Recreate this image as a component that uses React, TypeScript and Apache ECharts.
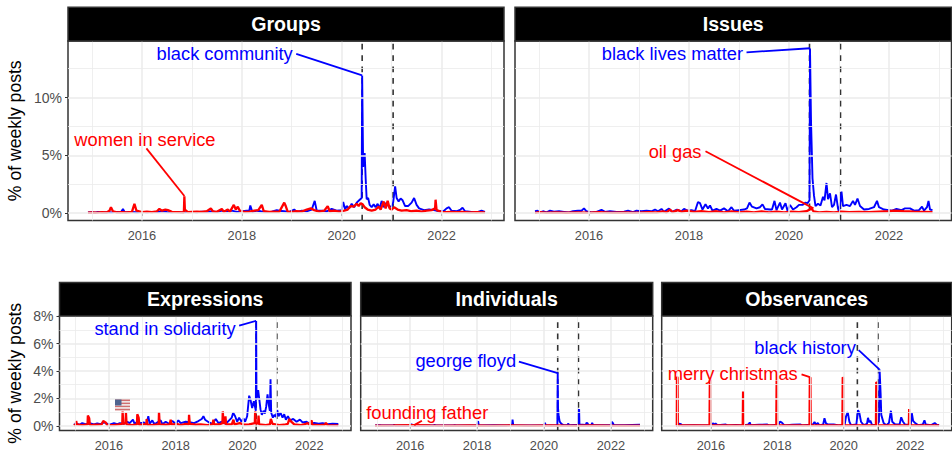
import React, { useEffect, useRef } from "react";
import * as echarts from "echarts";

const FONT = "Liberation Sans";
const BLUE = "#0000ff";
const RED = "#ff0000";
const X_RANGE = [2014.52, 2023.25];
const majorYears = [2016, 2018, 2020, 2022];
const minorYears = [2015, 2017, 2019, 2021, 2023];
const eventDates = [2020.41, 2021.03];

const topMajorY = [0, 5, 10];
const topMinorY = [2.5, 7.5, 12.5];
const botMajorY = [0, 2, 4, 6, 8];
const botMinorY = [1, 3, 5, 7];

const groupsBlue = [[2014.92,.05],[2015,.08],[2015.06,.03],[2015.12,.1],[2015.2,.05],[2015.3,.08],[2015.4,.05],[2015.5,.1],[2015.58,.06],[2015.62,.35],[2015.66,.05],[2015.75,.1],[2015.9,.06],[2016,.1],[2016.1,.05],[2016.2,.1],[2016.3,.08],[2016.4,.15],[2016.5,.1],[2016.6,.07],[2016.7,.1],[2016.8,.05],[2016.9,.08],[2017,.1],[2017.1,.06],[2017.2,.12],[2017.3,.1],[2017.4,.15],[2017.5,.08],[2017.6,.2],[2017.7,.15],[2017.8,.2],[2017.9,.1],[2018,.15],[2018.1,.2],[2018.15,.2],[2018.17,.65],[2018.21,.1],[2018.3,.2],[2018.38,.15],[2018.5,.1],[2018.6,.12],[2018.7,.25],[2018.75,.2],[2018.85,.15],[2018.95,.1],[2019.05,.3],[2019.1,.1],[2019.2,.2],[2019.3,.15],[2019.4,.3],[2019.46,1.05],[2019.5,.2],[2019.6,.2],[2019.7,.15],[2019.8,.35],[2019.9,.2],[2020,.25],[2020.03,.95],[2020.07,.3],[2020.1,.6],[2020.15,.4],[2020.2,.8],[2020.25,.5],[2020.3,.9],[2020.35,1.1],[2020.4,1.3],[2020.41,11.9],[2020.43,4],[2020.44,4.5],[2020.46,5.2],[2020.48,3],[2020.5,1.2],[2020.53,1.3],[2020.56,.7],[2020.6,.5],[2020.64,.75],[2020.68,.5],[2020.72,.8],[2020.76,.4],[2020.8,1.05],[2020.84,.5],[2020.9,.9],[2020.95,.5],[2021,.6],[2021.03,.9],[2021.07,2.3],[2021.1,1.3],[2021.14,1],[2021.18,1.25],[2021.22,1.1],[2021.27,.6],[2021.33,.6],[2021.4,.9],[2021.45,1.3],[2021.5,.7],[2021.55,.4],[2021.65,.25],[2021.75,.3],[2021.85,.25],[2021.95,.15],[2022.05,.2],[2022.1,.4],[2022.15,.5],[2022.2,.2],[2022.3,.15],[2022.38,.3],[2022.42,.45],[2022.47,.15],[2022.6,.1],[2022.7,.05],[2022.8,.2],[2022.87,.1]];
const groupsRed = [[2014.92,.03],[2015,.05],[2015.1,.04],[2015.2,.08],[2015.3,.06],[2015.35,.2],[2015.38,.5],[2015.42,.15],[2015.5,.05],[2015.6,.08],[2015.7,.05],[2015.8,.1],[2015.85,.8],[2015.89,.2],[2016,.08],[2016.1,.12],[2016.2,.08],[2016.3,.15],[2016.35,.35],[2016.4,.2],[2016.47,.3],[2016.52,.25],[2016.6,.1],[2016.7,.08],[2016.84,.05],[2016.85,1.45],[2016.86,.3],[2016.92,.08],[2017,.1],[2017.1,.12],[2017.2,.1],[2017.3,.15],[2017.38,.4],[2017.42,.15],[2017.5,.1],[2017.6,.35],[2017.64,.1],[2017.72,.3],[2017.76,.1],[2017.84,.7],[2017.88,.3],[2017.92,.55],[2017.96,.2],[2018.05,.1],[2018.15,.12],[2018.25,.2],[2018.33,.25],[2018.4,.7],[2018.44,.15],[2018.55,.1],[2018.65,.12],[2018.75,.1],[2018.85,.9],[2018.88,.6],[2018.92,.1],[2019,.1],[2019.1,.15],[2019.2,.12],[2019.3,.3],[2019.38,.4],[2019.45,.25],[2019.55,.12],[2019.65,.2],[2019.72,.6],[2019.76,.15],[2019.85,.2],[2019.95,.12],[2020.05,.2],[2020.12,.3],[2020.18,.6],[2020.24,.55],[2020.3,.8],[2020.34,.6],[2020.38,.85],[2020.42,.75],[2020.46,.5],[2020.52,.3],[2020.6,.2],[2020.68,.3],[2020.74,.55],[2020.78,.3],[2020.84,1],[2020.88,.4],[2020.92,1.05],[2020.96,.4],[2021,.3],[2021.05,.5],[2021.12,.3],[2021.2,.2],[2021.3,.25],[2021.4,.15],[2021.5,.2],[2021.6,.12],[2021.7,.2],[2021.8,.25],[2021.87,.4],[2021.88,1.15],[2021.9,.25],[2022,.1],[2022.1,.08],[2022.2,.1],[2022.3,.08],[2022.4,.1],[2022.55,.05],[2022.7,.08],[2022.87,.06]];

const issuesBlue = [[2014.92,.15],[2014.97,.2],[2015.02,.05],[2015.08,.15],[2015.15,.05],[2015.22,.2],[2015.3,.12],[2015.4,.15],[2015.5,.1],[2015.6,.05],[2015.68,.15],[2015.78,.2],[2015.85,.2],[2015.9,.4],[2015.95,.15],[2016.05,.05],[2016.15,.1],[2016.25,.28],[2016.32,.1],[2016.42,.15],[2016.55,.1],[2016.7,.12],[2016.78,.2],[2016.88,.08],[2016.95,.2],[2017.05,.15],[2017.15,.2],[2017.25,.15],[2017.32,.3],[2017.38,.15],[2017.45,.35],[2017.5,.1],[2017.6,.38],[2017.66,.1],[2017.76,.3],[2017.85,.15],[2017.9,.35],[2017.97,.2],[2018.05,.25],[2018.12,.15],[2018.18,.95],[2018.22,.85],[2018.27,.3],[2018.33,.75],[2018.38,.4],[2018.42,.65],[2018.47,.2],[2018.55,.35],[2018.62,.2],[2018.7,.4],[2018.78,.15],[2018.85,.5],[2018.9,.2],[2019,.25],[2019.1,.3],[2019.16,.4],[2019.21,.9],[2019.26,.55],[2019.35,.4],[2019.42,.5],[2019.47,.75],[2019.52,.35],[2019.62,.3],[2019.66,.3],[2019.71,1.05],[2019.75,.25],[2019.82,.9],[2019.86,.3],[2019.93,.85],[2019.97,.2],[2020.02,.7],[2020.08,.3],[2020.15,.5],[2020.2,.7],[2020.27,.7],[2020.33,.9],[2020.37,.85],[2020.41,1.1],[2020.42,14.25],[2020.44,8],[2020.47,3],[2020.5,1.5],[2020.53,.6],[2020.58,.8],[2020.63,.65],[2020.68,1.4],[2020.71,1.1],[2020.75,2.6],[2020.78,1.2],[2020.82,1.7],[2020.86,.5],[2020.9,.7],[2020.94,1.6],[2020.98,.4],[2021,.1],[2021.03,1.0],[2021.05,1.85],[2021.08,.6],[2021.15,.7],[2021.22,.6],[2021.28,1.05],[2021.32,.7],[2021.37,1.25],[2021.42,.6],[2021.5,.3],[2021.6,.35],[2021.7,.5],[2021.76,1.05],[2021.8,.5],[2021.9,.3],[2022,.25],[2022.06,.2],[2022.15,.35],[2022.25,.25],[2022.32,.4],[2022.42,.4],[2022.5,.2],[2022.6,.25],[2022.66,.55],[2022.7,.2],[2022.76,.5],[2022.79,1.05],[2022.82,.3],[2022.87,.25]];
const issuesRed = [[2014.92,.02],[2015,.08],[2015.15,.03],[2015.35,.05],[2015.55,.02],[2015.75,.06],[2016,.03],[2016.2,.07],[2016.45,.03],[2016.7,.06],[2016.95,.03],[2017.2,.08],[2017.35,.05],[2017.48,.15],[2017.55,.05],[2017.62,.3],[2017.67,.08],[2017.78,.25],[2017.85,.1],[2017.95,.2],[2018.1,.1],[2018.25,.15],[2018.4,.08],[2018.55,.15],[2018.7,.05],[2018.85,.15],[2019,.05],[2019.15,.12],[2019.3,.06],[2019.45,.15],[2019.6,.05],[2019.75,.12],[2019.9,.06],[2020.05,.12],[2020.2,.08],[2020.35,.15],[2020.45,.38],[2020.49,.15],[2020.6,.06],[2020.75,.1],[2020.9,.05],[2021.05,.12],[2021.2,.07],[2021.4,.1],[2021.6,.08],[2021.8,.12],[2022,.15],[2022.1,.2],[2022.3,.15],[2022.5,.12],[2022.7,.1],[2022.87,.08]];

const exprBlue = [[2014.95,.08],[2015.05,.15],[2015.12,.08],[2015.2,.2],[2015.3,.12],[2015.45,.18],[2015.55,.1],[2015.65,.18],[2015.75,.12],[2015.85,.25],[2015.95,.15],[2016.05,.1],[2016.15,.2],[2016.25,.12],[2016.33,.2],[2016.45,.15],[2016.55,.3],[2016.62,.2],[2016.72,.45],[2016.77,.15],[2016.85,.3],[2016.95,.2],[2017.05,.25],[2017.12,.1],[2017.18,.7],[2017.22,.15],[2017.3,.4],[2017.35,.15],[2017.42,.2],[2017.55,.4],[2017.6,.12],[2017.7,.3],[2017.8,.15],[2017.9,.35],[2018,.15],[2018.08,.4],[2018.15,.2],[2018.3,.3],[2018.45,.25],[2018.55,.2],[2018.68,.35],[2018.78,.5],[2018.83,.7],[2018.88,.45],[2019,.25],[2019.1,.15],[2019.2,.5],[2019.28,.2],[2019.38,.3],[2019.5,.15],[2019.6,.4],[2019.68,.6],[2019.72,.95],[2019.78,.7],[2019.84,.3],[2019.9,.6],[2019.97,.3],[2020.03,.55],[2020.08,.3],[2020.14,.7],[2020.2,2.2],[2020.24,1.9],[2020.29,1.3],[2020.34,1.8],[2020.4,1.1],[2020.41,7.65],[2020.42,1.9],[2020.47,2.6],[2020.5,2],[2020.54,1.2],[2020.58,.8],[2020.63,1.1],[2020.67,.9],[2020.71,1.4],[2020.75,2.3],[2020.79,1.5],[2020.82,1.1],[2020.84,3.4],[2020.86,.95],[2020.91,.6],[2020.96,.8],[2021,.65],[2021.04,1.15],[2021.08,.7],[2021.14,.95],[2021.2,.6],[2021.25,.85],[2021.3,.45],[2021.36,.7],[2021.43,.4],[2021.52,.5],[2021.62,.3],[2021.72,.45],[2021.8,.25],[2021.92,.3],[2022.02,.15],[2022.15,.22],[2022.28,.15],[2022.4,.2],[2022.55,.12],[2022.7,.15],[2022.87,.13]];
const exprRed = [[2014.95,.02],[2015.01,.1],[2015.02,.35],[2015.04,.1],[2015.2,.05],[2015.36,.1],[2015.37,.75],[2015.41,.55],[2015.43,.05],[2015.6,.08],[2015.78,.1],[2015.83,.35],[2015.9,.25],[2015.95,.05],[2016.15,.05],[2016.3,.1],[2016.4,.15],[2016.41,1.05],[2016.43,.15],[2016.5,.2],[2016.51,.95],[2016.53,.1],[2016.7,.05],[2016.84,.1],[2016.85,.85],[2016.89,.6],[2016.91,.05],[2017.05,.1],[2017.12,.1],[2017.13,.5],[2017.15,.08],[2017.3,.05],[2017.45,.1],[2017.49,.1],[2017.5,1],[2017.52,.1],[2017.7,.08],[2017.82,.1],[2017.85,.45],[2017.87,.1],[2018.05,.12],[2018.15,.05],[2018.3,.15],[2018.39,.1],[2018.4,.8],[2018.42,.15],[2018.6,.08],[2018.75,.1],[2018.95,.05],[2019.1,.1],[2019.13,.45],[2019.15,.1],[2019.3,.1],[2019.4,.2],[2019.41,1.05],[2019.43,.2],[2019.48,.2],[2019.49,.7],[2019.51,.1],[2019.68,.1],[2019.73,.45],[2019.76,.1],[2019.92,.2],[2020.05,.08],[2020.2,.1],[2020.37,.2],[2020.38,1.05],[2020.4,.15],[2020.47,.2],[2020.48,.75],[2020.5,.1],[2020.7,.05],[2020.82,.1],[2020.85,.5],[2020.9,.15],[2021.1,.05],[2021.25,.08],[2021.36,.15],[2021.4,.5],[2021.46,.3],[2021.55,.1],[2021.75,.05],[2021.9,.15],[2021.95,.2],[2022,.08],[2022.07,.4],[2022.09,.08],[2022.3,.05],[2022.46,.08],[2022.5,.2],[2022.55,.05],[2022.87,.04]];

const indivBlue = [[2014.95,.02],[2015.1,.05],[2015.13,.02],[2015.5,.03],[2015.52,.08],[2015.55,.02],[2016,.02],[2016.04,.12],[2016.08,.02],[2016.7,.03],[2016.73,.07],[2016.76,.02],[2017.3,.02],[2017.33,.06],[2017.36,.02],[2018,.03],[2018.03,.35],[2018.05,.03],[2018.5,.04],[2018.9,.03],[2019.05,.05],[2019.06,.45],[2019.08,.05],[2019.5,.03],[2020,.05],[2020.03,.22],[2020.05,.05],[2020.25,.03],[2020.4,.05],[2020.41,3.88],[2020.42,1.3],[2020.44,.7],[2020.47,.3],[2020.52,.15],[2020.58,.05],[2020.7,.06],[2020.72,.16],[2020.76,.05],[2021.02,.08],[2021.03,1.15],[2021.05,1.2],[2021.06,.1],[2021.25,.06],[2021.27,.22],[2021.3,.2],[2021.33,.05],[2021.42,.07],[2021.44,.22],[2021.47,.05],[2021.8,.04],[2022.01,.05],[2022.03,.3],[2022.06,.2],[2022.09,.05],[2022.4,.04],[2022.87,.08]];
const indivRed = [[2014.95,.02],[2015.5,.03],[2016.1,.05],[2016.6,.03],[2017.2,.02],[2017.8,.03],[2018.4,.02],[2019,.03],[2019.6,.02],[2020.2,.03],[2020.8,.02],[2021.4,.03],[2022,.02],[2022.87,.02]];

const obsBlue = [[2014.95,.02],[2015.02,.05],[2015.05,.15],[2015.1,.12],[2015.14,.02],[2015.5,.05],[2015.75,.03],[2016.03,.05],[2016.06,.2],[2016.1,.08],[2016.14,.18],[2016.2,.04],[2016.45,.1],[2016.5,.03],[2016.75,.07],[2017,.03],[2017.13,.1],[2017.17,.25],[2017.2,.04],[2017.45,.08],[2017.7,.1],[2017.75,.03],[2018.04,.08],[2018.08,.3],[2018.13,.25],[2018.18,.12],[2018.22,.03],[2018.45,.08],[2018.7,.1],[2018.75,.03],[2019.07,.1],[2019.12,.27],[2019.17,.1],[2019.22,.2],[2019.27,.03],[2019.38,.1],[2019.42,.55],[2019.46,.2],[2019.52,.1],[2019.7,.1],[2019.85,.03],[2020.03,.1],[2020.07,.7],[2020.12,1],[2020.17,.3],[2020.22,.05],[2020.38,.1],[2020.43,1.15],[2020.47,.95],[2020.52,.3],[2020.6,.05],[2020.7,.15],[2020.73,.58],[2020.77,.25],[2020.8,.38],[2020.85,.08],[2021,.05],[2021.06,.3],[2021.08,4.1],[2021.11,2.4],[2021.13,.8],[2021.2,.2],[2021.28,.05],[2021.36,.2],[2021.42,1.1],[2021.46,.3],[2021.55,.1],[2021.68,.1],[2021.73,.62],[2021.78,.32],[2021.85,.08],[2022.02,.1],[2022.05,.92],[2022.09,.35],[2022.16,.18],[2022.25,.04],[2022.38,.1],[2022.43,.4],[2022.47,.1],[2022.62,.04],[2022.74,.2],[2022.8,.08],[2022.87,.04]];
const obsRed = [[2014.95,.03],[2014.975,.03],[2014.98,3.58],[2014.995,3.5],[2015.005,.03],[2015.6,.03],[2015.96,.03],[2015.97,3.34],[2015.985,3.3],[2015.995,.03],[2016.5,.03],[2016.96,.03],[2016.97,2.5],[2016.99,.03],[2017.5,.03],[2017.97,.03],[2017.98,3.3],[2017.995,3.28],[2018.005,.03],[2018.5,.03],[2018.97,.03],[2018.98,3.56],[2018.995,3.5],[2019.005,.03],[2019.5,.03],[2019.96,.03],[2019.97,3.55],[2019.985,3.5],[2019.995,.03],[2020.5,.03],[2020.97,.03],[2020.98,3.2],[2020.995,3.15],[2021.005,.03],[2021.5,.03],[2021.96,.03],[2021.97,1.22],[2021.985,1.2],[2021.995,.03],[2022.5,.03],[2022.87,.03]];

const panelTitles = ["Groups", "Issues", "Expressions", "Individuals", "Observances"];
const panelBoxes = [
  { left: 68, top: 41, width: 436, height: 179.5, strip: 7.3 },
  { left: 515, top: 41, width: 436.5, height: 179.5, strip: 7.3 },
  { left: 59.5, top: 316, width: 291.5, height: 114.5, strip: 282.5 },
  { left: 360.7, top: 316, width: 292, height: 114.5, strip: 282.5 },
  { left: 661.7, top: 316, width: 290, height: 114.5, strip: 282.5 },
];
const blueSeries = [groupsBlue, issuesBlue, exprBlue, indivBlue, obsBlue];
const redSeries = [groupsRed, issuesRed, exprRed, indivRed, obsRed];
const Y_RANGES = [[-0.65, 14.9], [-0.65, 14.9], [-0.34, 8.01], [-0.34, 8.01], [-0.34, 8.01]];
const showYLabels = [true, false, true, false, false];
const yTitleGap = [44, 0, 35.5, 0, 0];

// panel, text, colour, text anchor point, side of the anchor, leader start, leader tip
const notes: [number, string, string, number[], string, number[], number[]][] = [
  [0, "black community", BLUE, [2019.03, 13.78], "left", [2019.09, 13.78], [2020.41, 11.93]],
  [0, "women in service", RED, [2016.06, 6.33], "inside", [2016.09, 5.6], [2016.85, 1.47]],
  [1, "black lives matter", BLUE, [2019.09, 13.78], "left", [2019.15, 13.92], [2020.42, 14.27]],
  [1, "oil gas", RED, [2018.26, 5.37], "left", [2018.33, 5.35], [2020.49, 0.4]],
  [2, "stand in solidarity", BLUE, [2019.81, 7.07], "left", [2019.9, 7.31], [2020.41, 7.66]],
  [3, "george floyd", BLUE, [2019.18, 4.8], "left", [2019.25, 4.68], [2020.41, 3.85]],
  [3, "founding father", RED, [2016.51, 0.98], "inside", [2016.35, 0.37], [2016.12, 0.05]],
  [4, "black history", BLUE, [2020.38, 5.7], "left", [2020.45, 5.52], [2021.08, 4.1]],
  [4, "merry christmas", RED, [2018.63, 3.8], "left", [2018.73, 3.76], [2018.98, 3.56]],
];

const flagStripes = ["#cf6f70", "#ece4e4", "#cf6f70", "#ece4e4", "#cf6f70", "#ece4e4", "#cf6f70"];

function buildOption() {
  const grid: any[] = [];
  const xAxis: any[] = [];
  const yAxis: any[] = [];
  const series: any[] = [];
  const graphic: any[] = [];

  panelBoxes.forEach((b, i) => {
    const top = i < 2;
    const majorY = top ? topMajorY : botMajorY;
    const minorY = top ? topMinorY : botMinorY;
    grid.push({ left: b.left, top: b.top, width: b.width, height: b.height, show: true, backgroundColor: "#fff", borderColor: "#333", borderWidth: 1.5, containLabel: false, outerBoundsMode: "none" });
    xAxis.push({
      type: "value", gridIndex: i, min: X_RANGE[0], max: X_RANGE[1],
      splitLine: { show: false }, axisLine: { show: false },
      axisTick: { show: true, customValues: majorYears, length: 3, lineStyle: { color: "#333", width: 1 } },
      axisLabel: { show: true, customValues: majorYears, formatter: (v: number) => String(Math.round(v)), fontFamily: FONT, fontSize: 12.8, color: "#4d4d4d", margin: 8 },
    });
    yAxis.push({
      type: "value", gridIndex: i, min: Y_RANGES[i][0], max: Y_RANGES[i][1],
      splitLine: { show: false }, axisLine: { show: false },
      name: showYLabels[i] ? "% of weekly posts" : "",
      nameLocation: "middle", nameGap: yTitleGap[i], nameRotate: 90,
      nameTextStyle: { fontFamily: FONT, fontSize: 17.6, color: "#000" },
      axisTick: showYLabels[i] ? { show: true, customValues: majorY, length: 3, lineStyle: { color: "#333", width: 1 } } : { show: false },
      axisLabel: showYLabels[i]
        ? { show: true, customValues: majorY, formatter: (v: number) => `${Math.round(v)}%`, fontFamily: FONT, fontSize: 14, color: "#4d4d4d", margin: 6 }
        : { show: false },
    });

    const gridLine = (o: object, width: number) => ({ ...o, lineStyle: { color: "#ebebeb", width, type: "solid" } });
    series.push({
      type: "line", xAxisIndex: i, yAxisIndex: i, data: [], silent: true, z: 1,
      markLine: {
        silent: true, symbol: "none", label: { show: false }, animation: false,
        data: [
          ...minorYears.map((v) => gridLine({ xAxis: v }, 0.8)),
          ...minorY.map((v) => gridLine({ yAxis: v }, 0.8)),
          ...majorYears.map((v) => gridLine({ xAxis: v }, 1.5)),
          ...majorY.map((v) => gridLine({ yAxis: v }, 1.5)),
        ],
      },
    });
    eventDates.forEach((d) => {
      series.push({
        type: "line", xAxisIndex: i, yAxisIndex: i, silent: true, z: 2, symbol: "none",
        data: [[d, Y_RANGES[i][0]], [d, Y_RANGES[i][1]]],
        lineStyle: { color: "#333", width: 1.6, type: [5.7, 5.7] },
      });
    });
    series.push({ type: "line", xAxisIndex: i, yAxisIndex: i, silent: true, z: 3, symbol: "none", data: blueSeries[i], lineStyle: { color: BLUE, width: 1.9 } });
    series.push({ type: "line", xAxisIndex: i, yAxisIndex: i, silent: true, z: 4, symbol: "none", data: redSeries[i], lineStyle: { color: RED, width: 2.3 } });

    graphic.push({ type: "rect", z: 50, shape: { x: b.left, y: b.strip, width: b.width, height: b.top - b.strip }, style: { fill: "#000", stroke: "#333", lineWidth: 1.5 } });
    graphic.push({ type: "text", z: 51, x: b.left + b.width / 2, y: (b.strip + b.top) / 2, style: { text: panelTitles[i], fill: "#fff", font: `bold 19.6px "${FONT}"`, textAlign: "center", textVerticalAlign: "middle" } });
  });

  notes.forEach(([p, text, color, at, side, from, tip]) => {
    series.push({ type: "line", xAxisIndex: p, yAxisIndex: p, silent: true, z: 5, symbol: "none", data: [from, tip], lineStyle: { color, width: 1.8 } });
    series.push({
      type: "scatter", xAxisIndex: p, yAxisIndex: p, silent: true, z: 6, symbol: "circle", symbolSize: 1,
      itemStyle: { color: "rgba(0,0,0,0)", opacity: 1 }, data: [at],
      label: { show: true, position: side, distance: 0, formatter: text, color, opacity: 1, fontFamily: FONT, fontSize: 18.3 },
    });
  });

  flagStripes.forEach((fill, k) => {
    graphic.push({ type: "rect", z: 52, shape: { x: 115, y: 399.5 + k * 1.55, width: 15, height: 1.6 }, style: { fill } });
  });
  graphic.push({ type: "rect", z: 53, shape: { x: 115, y: 399.5, width: 6.5, height: 6 }, style: { fill: "#4f648f" } });

  return { animation: false, backgroundColor: "#fff", grid, xAxis, yAxis, series, graphic };
}

export default function App() {
  const ref = useRef<HTMLDivElement>(null);
  useEffect(() => {
    document.body.style.margin = "0";
    document.body.style.overflow = "hidden";
    const chart = echarts.init(ref.current!, undefined, { renderer: "svg" });
    chart.setOption(buildOption() as any);
    return () => chart.dispose();
  }, []);
  return <div ref={ref} style={{ width: 952, height: 451 }} />;
}
